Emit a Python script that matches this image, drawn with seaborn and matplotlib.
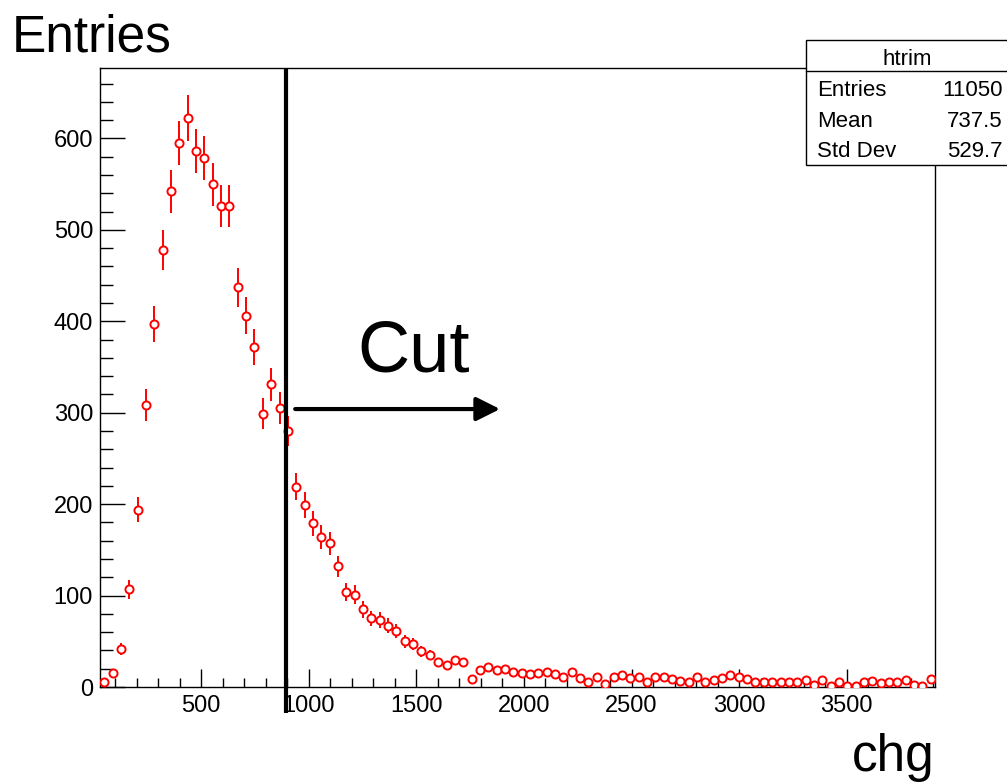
import numpy as np
import pandas as pd
import matplotlib
matplotlib.use("Agg")
import matplotlib.pyplot as plt
from matplotlib.patches import Rectangle
from matplotlib.lines import Line2D
from matplotlib.ticker import MultipleLocator
import seaborn as sns

# ---- data ----
x_min, x_max, n_bins = 30.0, 3910.0, 100
counts = [
    6, 15, 42, 107, 194, 308, 397, 478, 542, 595,
    622, 586, 579, 550, 526, 526, 437, 406, 372, 299,
    331, 305, 280, 219, 199, 179, 164, 157, 132, 104,
    101, 85, 75, 73, 67, 61, 50, 47, 39, 35,
    27, 24, 29, 27, 9, 19, 22, 19, 20, 16,
    15, 14, 15, 16, 14, 11, 16, 10, 5, 11,
    3, 11, 13, 10, 11, 6, 11, 11, 9, 7,
    5, 11, 6, 8, 10, 13, 11, 9, 5, 6,
    5, 6, 6, 5, 8, 2, 8, 1, 6, 1,
    1, 5, 7, 4, 5, 5, 8, 2, 1, 9,
]
hist_name = "htrim"
stat_labels = ["Entries", "Mean", "Std Dev"]
stat_values = ["11050", "737.5", "529.7"]
cut_value = 893
arrow_start, arrow_end, arrow_y = 937, 1889, 304
x_label = "chg"
y_label = "Entries"
cut_text = "Cut"

edges = np.linspace(x_min, x_max, n_bins + 1)
centers = 0.5 * (edges[:-1] + edges[1:])
vals = np.array(counts, dtype=float)
errs = np.sqrt(vals)
df = pd.DataFrame({"chg": centers, "entries": vals, "err": errs})

# ---- style ----
sns.set_theme(style="white")
plt.rcParams["font.family"] = ["Liberation Sans", "DejaVu Sans"]
plt.rcParams["text.color"] = "black"
plt.rcParams["axes.labelcolor"] = "black"
plt.rcParams["xtick.color"] = "black"
plt.rcParams["ytick.color"] = "black"

W, H = 1007, 782
fig = plt.figure(figsize=(W / 100, H / 100), dpi=100)
ax = fig.add_axes([100 / W, 95 / H, 835 / W, 619 / H])

ax.vlines(df["chg"], df["entries"] - df["err"], df["entries"] + df["err"],
          color="#ff0000", lw=1.4, zorder=2)
sns.scatterplot(data=df, x="chg", y="entries", ax=ax, marker="o",
                facecolor="white", edgecolor="#ff0000", s=34, linewidth=1.4,
                zorder=3, legend=False)

ax.set_xlim(x_min, x_max)
ax.set_ylim(0, 677)
ax.set_xlabel("")
ax.set_ylabel("")
ax.xaxis.set_major_locator(MultipleLocator(500))
ax.xaxis.set_minor_locator(MultipleLocator(100))
ax.yaxis.set_major_locator(MultipleLocator(100))
ax.yaxis.set_minor_locator(MultipleLocator(20))
ax.set_xticks([500, 1000, 1500, 2000, 2500, 3000, 3500])
ax.tick_params(axis="x", which="major", direction="in", length=13, width=1,
               labelsize=17, pad=6, colors="black", bottom=True)
ax.tick_params(axis="x", which="minor", direction="in", length=6.5, width=1,
               bottom=True, colors="black")
ax.tick_params(axis="y", which="major", direction="in", length=18, width=1,
               labelsize=17, pad=5, colors="black", left=True)
ax.tick_params(axis="y", which="minor", direction="in", length=9, width=1,
               left=True, colors="black")
for sp in ax.spines.values():
    sp.set_visible(True)
    sp.set_color("black")
    sp.set_linewidth(1)

# cut line
ax.add_line(Line2D([cut_value, cut_value], [-28, 677], color="black", lw=3,
                   clip_on=False, zorder=4, solid_capstyle="butt"))
# arrow
ax.annotate("", xy=(arrow_end, arrow_y), xytext=(arrow_start, arrow_y),
            arrowprops=dict(arrowstyle="-|>,head_length=0.4,head_width=0.2",
                            lw=3, color="black", mutation_scale=36,
                            shrinkA=0, shrinkB=0), zorder=4)
fig.text(414 / W, 1 - 372 / H, cut_text, fontsize=52, ha="center",
         va="baseline", color="black")

# axis titles
fig.text(12 / W, 1 - 52 / H, y_label, fontsize=37, ha="left", va="baseline",
         color="black")
fig.text(935 / W, 1 - 771 / H, x_label, fontsize=37, ha="right", va="baseline",
         color="black")

# stat box
fig.add_artist(Rectangle((806 / W, 1 - 165 / H), 210 / W, 125 / H,
                         transform=fig.transFigure, facecolor="white",
                         edgecolor="black", lw=1, zorder=10))
fig.add_artist(Line2D([806 / W, 1.0], [1 - 71 / H, 1 - 71 / H],
                      transform=fig.transFigure, color="black", lw=1, zorder=11))
fig.text(907 / W, 1 - 65 / H, hist_name, fontsize=16, ha="center",
         va="baseline", zorder=12, color="black")
baselines = [96, 127, 157]
for lab, val, b in zip(stat_labels, stat_values, baselines):
    fig.text(817 / W, 1 - b / H, lab, fontsize=16, ha="left",
             va="baseline", zorder=12, color="black")
    fig.text(1003 / W, 1 - b / H, val, fontsize=16, ha="right",
             va="baseline", zorder=12, color="black")

fig.savefig("out.png", dpi=100)
